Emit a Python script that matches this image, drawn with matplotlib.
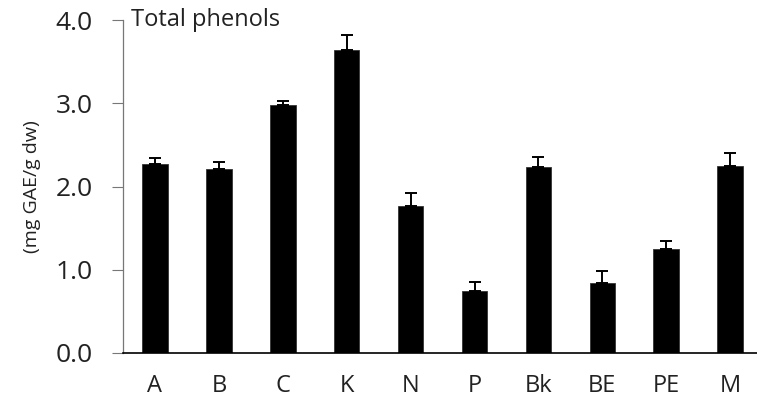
import numpy as np
import matplotlib
matplotlib.use('Agg')
import matplotlib.pyplot as plt

plt.rcParams.update({
    'font.family': ['Open Sans', 'DejaVu Sans'],
})

categories = ['A', 'B', 'C', 'K', 'N', 'P', 'Bk', 'BE', 'PE', 'M']
phenols = [2.27, 2.21, 2.98, 3.64, 1.76, 0.75, 2.24, 0.84, 1.25, 2.25]
errors = [0.07, 0.08, 0.05, 0.18, 0.16, 0.10, 0.12, 0.14, 0.10, 0.15]

fig = plt.figure(figsize=(7.57, 4.05), dpi=100)
ax = fig.add_axes([0.1625, 0.1284, 0.8375, 0.8222])

x = np.arange(len(categories))
ax.bar(x, phenols, width=0.4, color='black', edgecolor='#333333', lw=0.6,
       yerr=[np.zeros(len(errors)), errors],
       error_kw=dict(ecolor='black', elinewidth=1.4, capsize=4, capthick=1.4))

ax.set_xlim(-0.5, 9.42)
ax.set_ylim(0, 4.0)
ax.set_yticks([0, 1, 2, 3, 4])
ax.set_yticklabels(['0.0', '1.0', '2.0', '3.0', '4.0'], fontsize=19, color='#222222')
ax.set_xticks(x)
ax.set_xticklabels(categories, fontsize=17, color='#222222')
ax.tick_params(axis='x', length=0, pad=15)
ax.tick_params(axis='y', length=8, width=0.8, color='#777777', pad=14)

for s in ('top', 'right'):
    ax.spines[s].set_visible(False)
ax.spines['left'].set_color('#777777')
ax.spines['left'].set_linewidth(0.9)
ax.spines['bottom'].set_color('black')
ax.spines['bottom'].set_linewidth(1.2)

ax.set_ylabel('(mg GAE/g dw)', fontsize=14, labelpad=10, color='#222222')
ax.text(0.012, 1.0, 'Total phenols', transform=ax.transAxes, fontsize=17,
        ha='left', va='center', color='#222222')

fig.savefig('out.png', dpi=100)
